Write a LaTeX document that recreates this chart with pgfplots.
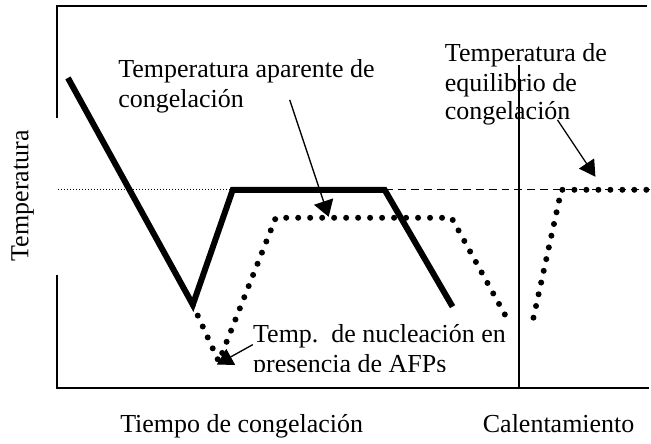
\documentclass[border=0pt]{standalone}
\usepackage{fontspec}
\setmainfont{Liberation Serif}
\usepackage{pgfplots}
\pgfplotsset{compat=1.18}
\usetikzlibrary{arrows.meta}

\begin{document}
\fontsize{13}{15}\selectfont
\begin{tikzpicture}
\begin{axis}[
    width=325.5pt, height=222pt, scale only axis,
    xmin=0, xmax=651, ymin=0, ymax=444,
    hide axis, clip=false,
]
\path (axis cs:0,0) rectangle (axis cs:651,444);

% curves (pixel-like units)
\addplot[line width=0.5pt, dash pattern=on 0.5pt off 1pt] coordinates {(58,254) (233,254)};
\addplot[line width=0.65pt, dash pattern=on 4pt off 2.5pt] coordinates {(385,254) (651,254)};
\addplot[line width=3pt, line join=miter] coordinates {
    (68,366) (193,139) (233,254) (385,254) (453,137)};
% apparent freezing (AFPs), dotted
\addplot[line width=3pt, line cap=round, dash pattern=on 0pt off 6pt] coordinates {
    (193,139) (219,82) (276,226) (452,226) (506,128)};
% warming
\addplot[line width=3pt, line cap=round, dash pattern=on 0pt off 6pt] coordinates {
    (534,126) (562,254) (648,254)};

% labels
\node[anchor=base west, inner sep=0] at (axis cs:118,366) {Temperatura aparente de};
\node[anchor=base west, inner sep=0] at (axis cs:118,336) {congelación};
\node[anchor=base west, inner sep=0] at (axis cs:445,382) {Temperatura de};
\node[anchor=base west, inner sep=0] at (axis cs:445,352) {equilibrio de};
\node[anchor=base west, inner sep=0] at (axis cs:445,324) {congelación};
\node[anchor=base west, inner sep=0] at (axis cs:253,101) {Temp.\ \ de nucleación en};
\node[anchor=base west, inner sep=0] at (axis cs:253,71.5) {presencia de AFPs};
\fill[white] (axis cs:248,58) rectangle (axis cs:515,71.5);

\node[anchor=base west, inner sep=0] at (axis cs:120,11) {Tiempo de congelación};
\node[anchor=base west, inner sep=0] at (axis cs:483,11) {Calentamiento};
\node[anchor=base, inner sep=0, rotate=90] at (axis cs:28.5,248) {Temperatura};

% arrows
\draw[line width=0.65pt, -{Triangle[length=8pt,width=10pt]}] (axis cs:290,344) -- (axis cs:329,227);
\draw[line width=0.65pt, -{Triangle[length=8pt,width=9pt]}] (axis cs:558,324) -- (axis cs:596,267);
\draw[line width=0.65pt, -{Triangle[length=8pt,width=9pt]}] (axis cs:253,99) -- (axis cs:217,79);

% frame
\draw[line width=1pt] (axis cs:57,326) -- (axis cs:57,438) -- (axis cs:648,438);
\draw[line width=1pt] (axis cs:57,169) -- (axis cs:57,56) -- (axis cs:650,56);
\draw[line width=1pt] (axis cs:520,379) -- (axis cs:520,56);
\end{axis}
\end{tikzpicture}
\end{document}
